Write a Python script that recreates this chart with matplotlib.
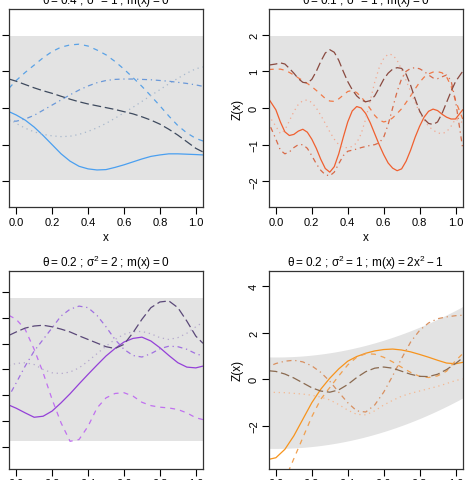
import matplotlib
matplotlib.use("Agg")
import matplotlib.pyplot as plt
import numpy as np

plt.rcParams["font.family"] = ["Liberation Sans", "DejaVu Sans"]
plt.rcParams["mathtext.fontset"] = "custom"
plt.rcParams["mathtext.rm"] = "Liberation Sans"
plt.rcParams["mathtext.it"] = "Liberation Sans:italic"

x_coarse = [-0.04, 0.0, 0.05, 0.1, 0.15, 0.2, 0.25, 0.3, 0.35, 0.4, 0.45, 0.5,
            0.55, 0.6, 0.65, 0.7, 0.75, 0.8, 0.85, 0.9, 0.95, 1.0, 1.04]
# finer grid for the wiggly theta = 0.1 panel
x_fine = [-0.04] + [round(0.025 * i, 3) for i in range(41)] + [1.04]

# ---- panel 1 : theta = 0.4, sigma2 = 1, m(x) = 0
tl_solid = [-0.1, -0.19, -0.33, -0.52, -0.75, -1.0, -1.25, -1.45, -1.59, -1.66, -1.69, -1.68,
            -1.62, -1.55, -1.47, -1.39, -1.32, -1.28, -1.25, -1.25, -1.26, -1.27, -1.28]
tl_dashed = [0.54, 0.75, 0.97, 1.17, 1.37, 1.54, 1.66, 1.72, 1.74, 1.69, 1.58, 1.45,
             1.27, 1.06, 0.83, 0.59, 0.33, 0.06, -0.22, -0.48, -0.68, -0.83, -0.9]
tl_dotted = [-0.3, -0.42, -0.55, -0.65, -0.72, -0.76, -0.78, -0.77, -0.72, -0.64, -0.54, -0.42,
             -0.28, -0.13, 0.02, 0.18, 0.34, 0.5, 0.66, 0.81, 0.95, 1.07, 1.12]
tl_dotdash = [-0.35, -0.36, -0.3, -0.2, -0.06, 0.08, 0.22, 0.36, 0.49, 0.6, 0.69, 0.75,
              0.78, 0.79, 0.79, 0.78, 0.77, 0.75, 0.73, 0.7, 0.67, 0.63, 0.59]
tl_longdash = [0.79, 0.73, 0.64, 0.55, 0.47, 0.4, 0.32, 0.24, 0.17, 0.11, 0.06, 0.01,
               -0.04, -0.1, -0.16, -0.24, -0.33, -0.44, -0.58, -0.74, -0.92, -1.1, -1.2]

# ---- panel 2 : theta = 0.1, sigma2 = 1, m(x) = 0
tr_solid = [0.25, -0.05, -0.38, -0.65, -0.75, -0.72, -0.63, -0.58, -0.66, -0.85, -1.1, -1.4,
            -1.65, -1.75, -1.6, -1.25, -0.8, -0.38, -0.08, 0.04, 0.0, -0.15, -0.4, -0.7,
            -1.0, -1.27, -1.5, -1.64, -1.71, -1.66, -1.45, -1.15, -0.8, -0.5, -0.25, -0.09,
            -0.03, -0.07, -0.17, -0.25, -0.3, -0.3, -0.05]
tr_dashed = [1.05, 1.06, 1.06, 1.03, 0.97, 0.9, 0.82, 0.75, 0.67, 0.58, 0.48, 0.37,
             0.26, 0.19, 0.18, 0.25, 0.35, 0.45, 0.48, 0.42, 0.3, 0.15, -0.02, -0.2,
             -0.33, -0.38, -0.35, -0.27, -0.15, -0.02, 0.15, 0.33, 0.52, 0.7, 0.84, 0.93,
             0.98, 0.99, 0.96, 0.85, 0.6, 0.2, -0.3]
tr_dotted = [-0.2, -0.5, -0.7, -0.6, -0.35, -0.1, 0.1, 0.2, 0.22, 0.15, 0.0, -0.2,
             -0.42, -0.65, -0.85, -1.0, -1.08, -1.08, -1.05, -0.95, -0.7, -0.3, 0.2, 0.7,
             1.1, 1.35, 1.47, 1.45, 1.3, 1.05, 0.75, 0.45, 0.15, -0.12, -0.33, -0.5,
             -0.6, -0.68, -0.7, -0.65, -0.5, -0.3, -0.4]
tr_dotdash = [-0.4, -0.85, -1.15, -1.25, -1.2, -1.08, -1.0, -1.0, -1.1, -1.3, -1.52, -1.7,
              -1.82, -1.85, -1.75, -1.52, -1.3, -1.18, -1.15, -1.12, -1.08, -1.05, -1.02, -1.0,
              -0.95, -0.8, -0.45, 0.0, 0.45, 0.8, 1.0, 1.08, 1.1, 1.07, 1.0, 0.9,
              0.82, 0.8, 0.85, 0.9, 0.75, 0.2, -1.1]
tr_longdash = [1.17, 1.2, 1.23, 1.2, 1.08, 0.95, 0.8, 0.7, 0.68, 0.78, 1.0, 1.27,
               1.5, 1.59, 1.52, 1.3, 1.0, 0.72, 0.5, 0.33, 0.22, 0.17, 0.2, 0.33,
               0.55, 0.78, 0.95, 1.06, 1.1, 1.08, 0.92, 0.62, 0.25, -0.08, -0.3, -0.42,
               -0.45, -0.38, -0.15, 0.15, 0.45, 0.72, 1.0]

# ---- panel 3 : theta = 0.2, sigma2 = 2, m(x) = 0
bl_solid = [-1.38, -1.5, -1.68, -1.85, -1.81, -1.61, -1.29, -0.94, -0.56, -0.19, 0.17, 0.52,
            0.81, 1.06, 1.2, 1.25, 1.1, 0.84, 0.54, 0.26, 0.09, 0.06, 0.13]
bl_dashed = [2.09, 1.94, 1.55, 0.78, -0.13, -1.16, -2.07, -2.78, -2.71, -2.2, -1.49, -1.1,
             -0.93, -0.9, -1.03, -1.27, -1.4, -1.46, -1.49, -1.55, -1.68, -1.87, -1.94]
bl_dotted = [0.16, 0.23, 0.26, 0.19, 0.0, -0.13, -0.16, -0.1, 0.06, 0.32, 0.61, 0.9,
             1.16, 1.36, 1.46, 1.47, 1.38, 1.23, 1.16, 1.23, 1.4, 1.65, 1.83]
bl_dotdash = [-1.03, -0.52, 0.13, 0.71, 1.16, 1.61, 2.07, 2.33, 2.45, 2.39, 2.09, 1.65,
              1.16, 0.78, 0.54, 0.48, 0.61, 0.8, 0.9, 0.88, 0.78, 0.61, 0.52]
bl_longdash = [1.32, 1.45, 1.6, 1.68, 1.71, 1.65, 1.56, 1.45, 1.3, 1.16, 1.02, 0.88,
               0.81, 0.97, 1.42, 1.94, 2.39, 2.61, 2.65, 2.39, 1.87, 1.29, 1.01]

# ---- panel 4 : theta = 0.2, sigma2 = 1, m(x) = 2x^2 - 1
br_solid = [-3.43, -3.36, -3.0, -2.42, -1.71, -1.0, -0.42, 0.05, 0.45, 0.78, 0.98, 1.12,
            1.22, 1.28, 1.3, 1.26, 1.18, 1.07, 0.95, 0.82, 0.7, 0.67, 0.73]
br_dashed = [-5.6, -5.0, -4.3, -3.4, -2.5, -1.6, -0.85, -0.35, 0.15, 0.62, 0.95, 1.1,
             1.08, 0.95, 0.75, 0.52, 0.3, 0.13, 0.08, 0.15, 0.35, 0.8, 1.1]
br_dotted = [-0.55, -0.56, -0.57, -0.6, -0.63, -0.68, -0.76, -0.88, -1.08, -1.32, -1.5, -1.52,
             -1.35, -1.1, -0.9, -0.72, -0.6, -0.5, -0.4, -0.3, -0.18, -0.05, 0.02]
br_dotdash = [0.55, 0.68, 0.78, 0.82, 0.75, 0.58, 0.3, -0.08, -0.55, -1.0, -1.35, -1.4,
              -1.1, -0.55, 0.15, 0.9, 1.6, 2.1, 2.42, 2.6, 2.68, 2.73, 2.75]
br_longdash = [0.37, 0.34, 0.23, 0.06, -0.15, -0.36, -0.5, -0.55, -0.45, -0.22, 0.08, 0.33,
               0.48, 0.53, 0.48, 0.35, 0.22, 0.13, 0.12, 0.22, 0.42, 0.68, 0.92]

# thin spaces around "=" like R plotmath
eq = "\u2009=\u2009"
titles = ["θ" + eq + "0.4 ; σ$^2$" + eq + "1 ; m(x)" + eq + "0",
          "θ" + eq + "0.1 ; σ$^2$" + eq + "1 ; m(x)" + eq + "0",
          "θ" + eq + "0.2 ; σ$^2$" + eq + "2 ; m(x)" + eq + "0",
          "θ" + eq + "0.2 ; σ$^2$" + eq + "1 ; m(x)" + eq + "2x$^2$\u2009\u2212\u20091"]

# R line types: solid, dashed (2), dotted (3), dotdash (4), longdash (5)
ltys = ["-", (0, (4, 4)), (0, (1, 3)), (0, (1, 3, 4, 3)), (0, (7, 3))]


def draw_panel(ax, xs, curves, colors, mean, sd, ylim, yticks, title, ylab):
    xx = np.linspace(-0.04, 1.04, 200)
    m = mean(xx)
    ax.fill_between(xx, m - 1.96 * sd, m + 1.96 * sd, color="#e3e3e3", lw=0)
    for ys, c, ls in zip(curves, colors, ltys):
        ax.plot(xs, ys, color=c, linestyle=ls, lw=0.9)
    ax.set_xlim(-0.04, 1.04)
    ax.set_ylim(*ylim)
    ax.set_xticks([0, 0.2, 0.4, 0.6, 0.8, 1.0])
    ax.set_xticklabels(["0.0", "0.2", "0.4", "0.6", "0.8", "1.0"])
    ax.set_yticks(yticks)
    ax.set_yticklabels(["\u2212" + str(-t) if t < 0 else str(t) for t in yticks],
                       rotation=90, va="center")
    ax.tick_params(direction="out", length=5, width=0.8, labelsize=8, pad=2)
    for s in ax.spines.values():
        s.set_linewidth(0.9)
        s.set_color("#333333")
    ax.set_title(title, fontsize=8.5, pad=3)
    ax.set_xlabel("x", fontsize=8.5, labelpad=3)
    if ylab:
        ax.set_ylabel("Z(x)", fontsize=8.5, labelpad=4)


fig = plt.figure(figsize=(4.72, 4.81), dpi=100)
w, h = 194 / 472, 198 / 481
ax1 = fig.add_axes([9 / 472, (481 - 208) / 481, w, h])
ax2 = fig.add_axes([268.7 / 472, (481 - 208) / 481, w, h])
ax3 = fig.add_axes([9 / 472, (481 - 469.7) / 481, w, h])
ax4 = fig.add_axes([268.7 / 472, (481 - 469.7) / 481, w, h])

draw_panel(ax1, x_coarse, [tl_solid, tl_dashed, tl_dotted, tl_dotdash, tl_longdash],
           ["#4a9ff0", "#5aa2e6", "#a8b8cc", "#6a98d8", "#3e4a5e"],
           lambda t: 0 * t, 1.0, (-2.7, 2.7), [-2, -1, 0, 1, 2], titles[0], False)
draw_panel(ax2, x_fine, [tr_solid, tr_dashed, tr_dotted, tr_dotdash, tr_longdash],
           ["#f06030", "#f07a48", "#f2a890", "#d86a48", "#8a4a40"],
           lambda t: 0 * t, 1.0, (-2.7, 2.7), [-2, -1, 0, 1, 2], titles[1], True)
draw_panel(ax3, x_coarse, [bl_solid, bl_dashed, bl_dotted, bl_dotdash, bl_longdash],
           ["#9440d8", "#c070f0", "#b4a8cc", "#a070e0", "#5a4878"],
           lambda t: 0 * t, np.sqrt(2), (-3.84, 3.82), [-3, -2, -1, 0, 1, 2, 3], titles[2], False)
draw_panel(ax4, x_coarse, [br_solid, br_dashed, br_dotted, br_dotdash, br_longdash],
           ["#f7941d", "#f0a050", "#f4b890", "#d89060", "#8a6a50"],
           lambda t: 2 * t ** 2 - 1, 1.0, (-3.83, 4.66), [-2, 0, 2, 4], titles[3], True)

fig.savefig("out.png", dpi=100)
